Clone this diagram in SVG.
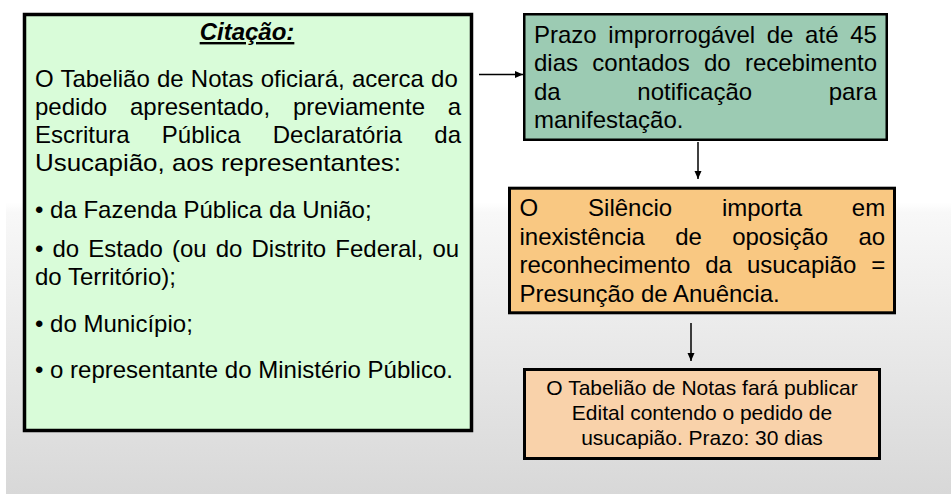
<svg xmlns="http://www.w3.org/2000/svg" width="951" height="494" viewBox="0 0 951 494">
<defs>
<linearGradient id="bg" x1="0" y1="0" x2="0" y2="494" gradientUnits="userSpaceOnUse">
<stop offset="0" stop-color="#ffffff"/>
<stop offset="0.41" stop-color="#ffffff"/>
<stop offset="0.43" stop-color="#f8f8f8"/>
<stop offset="1" stop-color="#d8d8d8"/>
</linearGradient>
<marker id="ah" markerUnits="userSpaceOnUse" markerWidth="9" markerHeight="8" refX="8" refY="3.5" orient="auto">
<path d="M0,0 L8,3.5 L0,7 z" fill="#000"/>
</marker>
<style>
text{font-family:"Liberation Sans",Arial,sans-serif;fill:#000;}
.b{font-size:24px;}
.s{font-size:21px;}
.t{font-size:24px;font-weight:bold;font-style:italic;text-decoration:underline;}
.box{stroke:#000;}
.c{stroke:#000;stroke-width:1.5;fill:none;marker-end:url(#ah);}
</style>
</defs>
<rect x="0" y="0" width="951" height="494" fill="#ffffff"/>
<rect x="6" y="0" width="945" height="494" fill="url(#bg)"/>

<g id="citacao">
<rect class="box" x="24.5" y="14.5" width="447" height="416" fill="#d9fcd9" stroke-width="3.5"/>
<text class="t" x="247" y="40" text-anchor="middle">Citação:</text>
<text class="b" x="35" y="87" word-spacing="0.5">O Tabelião de Notas oficiará, acerca do</text>
<text class="b" x="35" y="115" word-spacing="16.2">pedido apresentado, previamente a</text>
<text class="b" x="35" y="143" word-spacing="25.5">Escritura Pública Declaratória da</text>
<text class="b" x="35" y="171" textLength="366" lengthAdjust="spacingAndGlyphs">Usucapião, aos representantes:</text>
<text class="b" x="35" y="218">• da Fazenda Pública da União;</text>
<text class="b" x="35" y="257" word-spacing="2.4">• do Estado (ou do Distrito Federal, ou</text>
<text class="b" x="35" y="285">do Território);</text>
<text class="b" x="35" y="332">• do Município;</text>
<text class="b" x="35" y="378">• o representante do Ministério Público.</text>
</g>

<g id="prazo">
<rect class="box" x="524.25" y="14.25" width="362.5" height="125.5" fill="#9ccbb3" stroke-width="2.5"/>
<text class="b" x="534" y="43" word-spacing="5">Prazo improrrogável de até 45</text>
<text class="b" x="534" y="71" word-spacing="7.6">dias contados do recebimento</text>
<text class="b" x="534" y="100" word-spacing="70">da notificação para</text>
<text class="b" x="534" y="128">manifestação.</text>
</g>

<g id="silencio">
<rect class="box" x="509.5" y="188.2" width="385" height="124.6" fill="#f9c882" stroke-width="3"/>
<text class="b" x="519.5" y="216" word-spacing="43.2">O Silêncio importa em</text>
<text class="b" x="519.5" y="244.5" word-spacing="23.6">inexistência de oposição ao</text>
<text class="b" x="519.5" y="273.3" word-spacing="8.3">reconhecimento da usucapião =</text>
<text class="b" x="519.5" y="302">Presunção de Anuência.</text>
</g>

<g id="edital">
<rect class="box" x="524.5" y="369.5" width="355" height="89" fill="#f9d2aa" stroke-width="3"/>
<text class="s" x="702" y="394.5" text-anchor="middle">O Tabelião de Notas fará publicar</text>
<text class="s" x="702" y="419.5" text-anchor="middle">Edital contendo o pedido de</text>
<text class="s" x="702" y="445" text-anchor="middle">usucapião. Prazo: 30 dias</text>
</g>

<g id="connectors">
<line class="c" x1="479" y1="74.5" x2="523" y2="74.5"/>
<line class="c" x1="698" y1="142" x2="698" y2="179"/>
<line class="c" x1="691" y1="323" x2="691" y2="361"/>
</g>
</svg>
